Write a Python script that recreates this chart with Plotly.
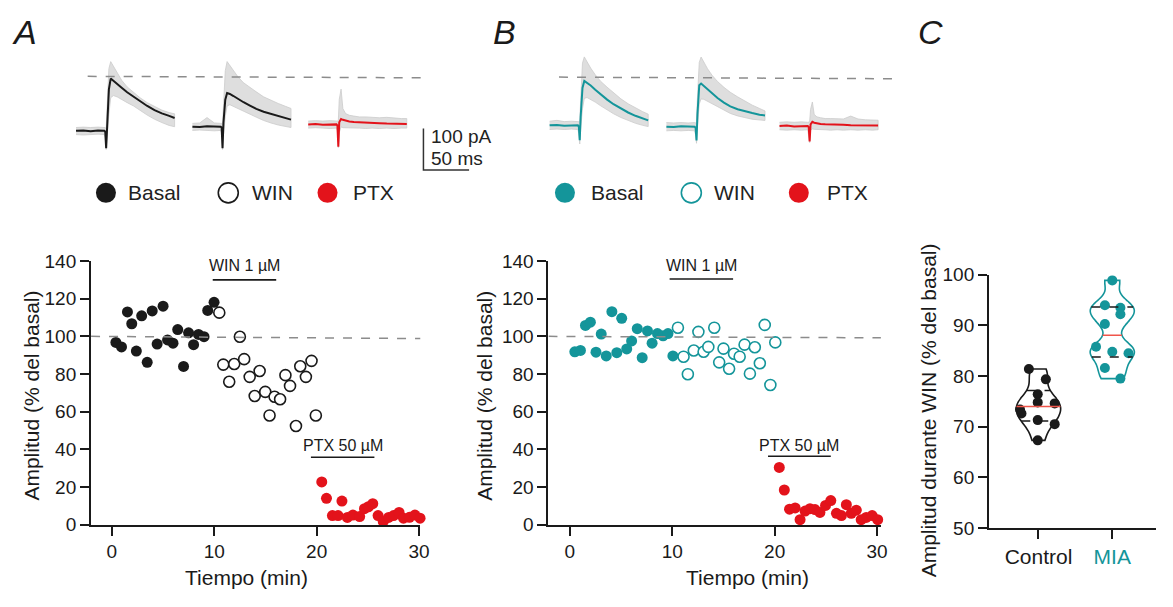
import numpy as np
import plotly.graph_objects as go

SCREEN_W, SCREEN_H = 1173, 607
OFF = 8                      # default body margin of the page
W, H = SCREEN_W - 2 * OFF, SCREEN_H - 2 * OFF
FONT = "Liberation Sans, Arial, Helvetica, sans-serif"
INK = "#1a1a1a"
TEAL = "#14959a"
RED = "#e3131b"
DASH_GREY = "#8c8c8c"
TRACE_GREY = "#dedede"

# ---------------- Panel A time course (min, % of basal) ----------------
a_basal_t = [0.39, 0.94, 1.52, 1.94, 2.39, 2.91, 3.45, 3.94, 4.42, 5.0, 5.44, 5.97, 6.43, 7.0, 7.49, 7.98, 8.46, 9.0, 9.36, 9.98]
a_basal_y = [96.8, 94.4, 113, 106.7, 92.2, 110.9, 86.2, 113.5, 95.9, 116, 98.1, 96.4, 103.6, 84, 101.9, 95.6, 101, 99.8, 113.8, 118.1]
a_win_t = [10.49, 10.88, 11.46, 11.95, 12.5, 12.92, 13.46, 13.95, 14.43, 14.98, 15.4, 15.89, 16.43, 16.95, 17.4, 17.98, 18.4, 18.95, 19.5, 19.92]
a_win_y = [112.6, 85, 75.9, 85.3, 99.8, 87.9, 78.5, 68.3, 81.6, 70.5, 58, 67.9, 66.6, 79.4, 73.7, 52.4, 84.1, 78.5, 87, 58]
a_ptx_t = [20.5, 20.96, 21.54, 22.09, 22.47, 23.0, 23.54, 24.2, 24.67, 25.05, 25.48, 26.0, 26.5, 27.03, 27.51, 28.05, 28.48, 29.06, 29.6, 30.1]
a_ptx_y = [22.7, 14, 4.8, 4.8, 12.5, 3.8, 5.1, 4.3, 8.5, 9.5, 11.1, 4.8, 1.7, 3.8, 4.8, 6.5, 3.4, 3.9, 5.1, 3.4]

# ---------------- Panel B time course ----------------
b_basal_t = [0.48, 1.03, 1.52, 2.0, 2.55, 3.06, 3.55, 4.1, 4.58, 5.06, 5.55, 6.03, 6.58, 7.06, 7.58, 8.03, 8.55, 9.1, 9.58, 10.06]
b_basal_y = [91.8, 92.5, 105.8, 107.5, 91.6, 101.2, 89.6, 113.1, 91.3, 109.6, 93.3, 97.6, 104.1, 88.7, 102.9, 96.4, 101.5, 100.3, 101.5, 89.6]
b_win_t = [10.55, 11.1, 11.52, 12.1, 12.55, 13.06, 13.52, 14.1, 14.58, 15.0, 15.55, 16.03, 16.58, 17.06, 17.58, 18.06, 18.55, 19.03, 19.58, 20.06]
b_win_y = [104.6, 89.2, 79.9, 92.5, 102.4, 91.8, 94.4, 104.6, 86.2, 93.5, 82.8, 90.8, 89.2, 95.6, 80.2, 94.2, 85.7, 106.1, 74.2, 96.8]
b_ptx_t = [20.45, 20.94, 21.45, 22.0, 22.48, 22.97, 23.45, 23.94, 24.42, 24.97, 25.48, 26.03, 26.52, 27.0, 27.48, 27.97, 28.45, 28.94, 29.52, 30.06]
b_ptx_y = [30.4, 18.4, 8.2, 8.9, 2.6, 7.2, 8.5, 8.0, 6.5, 10.2, 12.8, 6.0, 4.8, 10.6, 6.0, 7.7, 2.6, 3.8, 4.8, 2.6]

# ---------------- Panel C (amplitude during WIN, % of basal) ----------------
c_categories = ["Control", "MIA"]
control_vals = [81.4, 79.35, 76.4, 74.8, 74.6, 73.4, 72.6, 71.3, 70.5, 67.3]
control_jitter = [-0.13, 0.10, -0.01, -0.01, 0.22, -0.25, -0.23, -0.01, 0.22, -0.01]
mia_vals = [98.9, 94.0, 93.5, 92.2, 90.3, 85.8, 84.8, 84.5, 81.6, 79.5]
mia_jitter = [0.0, -0.10, 0.11, 0.11, -0.10, -0.22, 0.0, 0.22, -0.10, 0.11]

# ---------------- Example current traces (ms from stimulus, pA from baseline) ----------------
trace_t = [-32, -24, -16, -8, -1, 0, 1, 2, 4, 6, 9, 13, 18, 24, 31, 38, 46, 54, 62, 70, 76]
a1_mean = [0, 1, -1, 1, 0, -2, -42, 15, 100, 126, 121, 114, 104, 93, 82, 72, 60, 50, 42, 36, 31]
a1_up = [8, 9, 8, 9, 8, 8, 5, 60, 150, 167, 155, 140, 122, 106, 92, 80, 68, 58, 50, 44, 41]
a1_lo = [-9, -10, -9, -8, -9, -15, -45, -20, 40, 80, 85, 82, 76, 68, 60, 50, 38, 28, 20, 13, 10]
a2_mean = [0, -1, 1, 0, 0, -2, -52, 10, 65, 81, 79, 74, 67, 59, 51, 43, 36, 31, 26, 21, 17]
a2_up = [8, 9, 22, 9, 8, 8, 5, 50, 135, 157, 148, 135, 120, 106, 94, 84, 72, 63, 56, 49, 44]
a2_lo = [-9, -8, -9, -10, -9, -15, -55, -20, 25, 50, 53, 50, 45, 38, 30, 23, 15, 9, 4, 0, -2]
a3_mean = [0, 1, -1, 0, 0, -3, -54, 5, 13, 11, 9, 7, 6, 5, 4, 3, 3, 2, 2, 2, 1]
a3_up = [8, 9, 8, 9, 8, 8, 10, 60, 85, 38, 26, 22, 20, 18, 18, 17, 16, 17, 15, 14, 14]
a3_lo = [-9, -8, -9, -10, -9, -15, -56, -20, -6, -8, -8, -9, -9, -9, -10, -9, -10, -9, -10, -9, -9]
b1_mean = [0, 1, -1, 0, 0, -3, -36, 20, 90, 107, 103, 96, 86, 74, 62, 51, 40, 31, 23, 16, 12]
b1_up = [10, 12, 9, 10, 9, 9, 8, 60, 150, 165, 152, 138, 122, 106, 92, 78, 64, 52, 42, 33, 27]
b1_lo = [-10, -9, -10, -9, -10, -20, -45, -10, 40, 65, 67, 63, 56, 47, 37, 28, 19, 12, 5, 0, -3]
b2_mean = [0, -1, 1, 0, 0, -3, -33, 30, 100, 104, 98, 90, 80, 69, 58, 49, 42, 37, 33, 29, 27]
b2_up = [10, 9, 10, 9, 10, 9, 8, 70, 155, 168, 155, 140, 124, 109, 95, 83, 72, 61, 52, 44, 38]
b2_lo = [-10, -9, -10, -9, -10, -20, -40, 0, 55, 67, 66, 62, 56, 48, 40, 32, 26, 22, 18, 16, 15]
b3_mean = [0, 1, -1, 0, 0, -3, -37, 4, 10, 8, 6, 5, 4, 4, 3, 3, 2, 2, 2, 1, 1]
b3_up = [9, 10, 9, 10, 9, 9, 10, 40, 58, 28, 22, 20, 18, 18, 17, 17, 24, 17, 15, 15, 14]
b3_lo = [-9, -10, -9, -10, -9, -15, -40, -10, -7, -8, -8, -9, -9, -10, -9, -10, -9, -10, -9, -10, -9]

scale_pa = 100
scale_ms = 50

# ---------------- helpers (screen-pixel layout) ----------------
def px(x):
    return (x - OFF) / W


def py(y):
    return 1 - (y - OFF) / H


MS_PX = 0.92   # px per ms in the trace strip
PA_PX = 0.43   # px per pA in the trace strip
STRIP_B = 200  # bottom of the trace strip (screen px)


def tx(xpix):
    return xpix / MS_PX


def ty(ypix):
    return (STRIP_B - ypix) / PA_PX


fig = go.Figure()

# ---------------- example traces ----------------
groups = [
    (a1_mean, a1_up, a1_lo, INK, 106.0, 125.0),
    (a2_mean, a2_up, a2_lo, INK, 223.3, 120.7),
    (a3_mean, a3_up, a3_lo, RED, 340.0, 118.3),
    (b1_mean, b1_up, b1_lo, TEAL, 583.3, 119.3),
    (b2_mean, b2_up, b2_lo, TEAL, 701.0, 120.7),
    (b3_mean, b3_up, b3_lo, RED, 815.0, 120.0),
]
t_arr = np.array(trace_t, dtype=float)
for mean, up, lo, col, sx, by in groups:
    x = tx(sx) + t_arr
    y0 = ty(by)
    fig.add_trace(go.Scatter(
        x=np.concatenate([x, x[::-1]]),
        y=np.concatenate([y0 + np.array(up), (y0 + np.array(lo))[::-1]]),
        fill="toself", fillcolor=TRACE_GREY, line=dict(width=0.8, color="#cccccc"),
        mode="lines", hoverinfo="skip", showlegend=False, xaxis="x4", yaxis="y4"))
    fig.add_trace(go.Scatter(
        x=x, y=y0 + np.array(mean), mode="lines",
        line=dict(color=col, width=2), hoverinfo="skip", showlegend=False,
        xaxis="x4", yaxis="y4"))

# scale bar
sbx, sby = tx(426.7), ty(165.7)
fig.add_trace(go.Scatter(
    x=[sbx, sbx, sbx + scale_ms], y=[sby + scale_pa, sby, sby], mode="lines",
    line=dict(color="#333333", width=1.5), hoverinfo="skip", showlegend=False,
    xaxis="x4", yaxis="y4"))

# ---------------- time-course scatters ----------------
def add_series(t, y, color, filled, xa, ya):
    fig.add_trace(go.Scatter(
        x=t, y=y, mode="markers", xaxis=xa, yaxis=ya, showlegend=False,
        cliponaxis=False,
        marker=dict(size=11, color=color if filled else "white",
                    line=dict(color=color, width=1.6 if not filled else 0))))

add_series(a_basal_t, a_basal_y, INK, True, "x", "y")
add_series(a_win_t, a_win_y, INK, False, "x", "y")
add_series(a_ptx_t, a_ptx_y, RED, True, "x", "y")
add_series(b_basal_t, b_basal_y, TEAL, True, "x2", "y2")
add_series(b_win_t, b_win_y, TEAL, False, "x2", "y2")
add_series(b_ptx_t, b_ptx_y, RED, True, "x2", "y2")

# ---------------- violins ----------------
BW = 1.8
VW = 0.6
for i, (vals, col) in enumerate([(control_vals, INK), (mia_vals, TEAL)]):
    fig.add_trace(go.Violin(
        y=vals, x0=i, name=c_categories[i], xaxis="x3", yaxis="y3",
        width=VW, bandwidth=BW, spanmode="hard", points=False,
        line=dict(color=col, width=1.6), fillcolor="rgba(0,0,0,0)",
        box_visible=False, meanline_visible=False, showlegend=False,
        scalemode="width", hoverinfo="skip"))

shapes = []
for i, (vals, col) in enumerate([(control_vals, INK), (mia_vals, TEAL)]):
    v = np.array(vals, dtype=float)
    grid = np.linspace(v.min(), v.max(), 400)

    def kde(y):
        return np.exp(-0.5 * ((np.atleast_1d(y)[:, None] - v[None, :]) / BW) ** 2).sum(axis=1)

    dmax = kde(grid).max()
    q1, med, q3 = np.percentile(v, [25, 50, 75], method="weibull")
    for q, c, d in [(q1, INK, "dash"), (q3, INK, "dash"), (med, "#f0554a", "solid")]:
        hw = VW / 2 * kde(q)[0] / dmax
        shapes.append(dict(type="line", xref="x3", yref="y3", x0=i - hw, x1=i + hw,
                           y0=q, y1=q, line=dict(color=c, width=1.5, dash=d)))

jit = [control_jitter, mia_jitter]
for i, (vals, col) in enumerate([(control_vals, INK), (mia_vals, TEAL)]):
    fig.add_trace(go.Scatter(
        x=[i + j for j in jit[i]], y=vals, mode="markers", xaxis="x3", yaxis="y3",
        cliponaxis=False, showlegend=False,
        marker=dict(size=10, color=col)))

# ---------------- reference lines & bars ----------------
A_X0 = (91.7 - 112.7) / 10.32
B_X0 = (552.7 - 574.3) / 10.32
for xa, ya, xs, xend, yend in [("x", "y", A_X0, 31.0, 98.8), ("x2", "y2", B_X0, 31.5, 99.2)]:
    shapes.append(dict(type="line", xref=xa, yref=ya, x0=xs, x1=xend,
                       y0=100, y1=yend, line=dict(color=DASH_GREY, width=1.5, dash="dash")))

bars = [("x", "y", 9.85, 16.05, 130, "WIN 1 µM", 137.6),
        ("x", "y", 19.44, 25.64, 35.8, "PTX 50 µM", 42.0),
        ("x2", "y2", 9.74, 15.94, 130.5, "WIN 1 µM", 137.6),
        ("x2", "y2", 19.35, 25.48, 36.3, "PTX 50 µM", 42.0)]
annotations = []
for xa, ya, x0, x1, yb, lab, yl in bars:
    shapes.append(dict(type="line", xref=xa, yref=ya, x0=x0, x1=x1, y0=yb, y1=yb,
                       line=dict(color=INK, width=1.6)))
    annotations.append(dict(xref=xa, yref=ya, x=(x0 + x1) / 2, y=yl, text=lab,
                            showarrow=False, font=dict(size=16, color=INK),
                            xanchor="center", yanchor="middle"))

# trace strip dashed peak lines
for x0, x1, y0, y1 in [(88.3, 425, 68.5, 70.0), (563.3, 900, 69.3, 71.0)]:
    shapes.append(dict(type="line", xref="paper", yref="paper", x0=px(x0), x1=px(x1),
                       y0=py(y0), y1=py(y1), line=dict(color=DASH_GREY, width=1.5, dash="dash")))

# legend glyphs
legend_items = [
    (106.7, "Basal", INK, True, 126.7), (230.0, "WIN", INK, False, 251.7), (330.0, "PTX", RED, True, 353.3),
    (569.3, "Basal", TEAL, True, 593.3), (696.7, "WIN", TEAL, False, 717.3), (805.0, "PTX", RED, True, 831.7),
]
for cx, lab, col, filled, txx in legend_items:
    shapes.append(dict(type="circle", xref="paper", yref="paper", xsizemode="pixel", ysizemode="pixel",
                       xanchor=px(cx), yanchor=py(189.3), x0=-10, x1=10, y0=-10, y1=10,
                       fillcolor=col if filled else "white",
                       line=dict(color=col, width=0 if filled else 1.6)))
    annotations.append(dict(xref="paper", yref="paper", x=px(txx), y=py(188.5), text=lab,
                            showarrow=False, xanchor="left", yanchor="middle",
                            font=dict(size=21, color="#222222")))

# scale bar labels
annotations.append(dict(xref="paper", yref="paper", x=px(432), y=py(130.5), text="100 pA",
                        showarrow=False, xanchor="left", yanchor="middle", font=dict(size=19, color="#222222")))
annotations.append(dict(xref="paper", yref="paper", x=px(432), y=py(153.5), text="50 ms",
                        showarrow=False, xanchor="left", yanchor="middle", font=dict(size=19, color="#222222")))

# axis titles
for x, y, text, ang in [(31.7, 400, "Amplitud (% del basal)", -90),
                        (487.5, 400, "Amplitud (% del basal)", -90),
                        (936, 415, "Amplitud durante WIN (% del basal)", -90),
                        (248.5, 588, "Tiempo (min)", 0),
                        (753, 588, "Tiempo (min)", 0)]:
    annotations.append(dict(xref="paper", yref="paper", x=px(x), y=py(y), text=text, textangle=ang,
                            showarrow=False, xanchor="center", yanchor="middle",
                            font=dict(size=21, color=INK)))

# panel letters
for x, lab in [(10, "A"), (495, "B"), (923, "C")]:
    annotations.append(dict(xref="paper", yref="paper", x=px(x), y=py(23), text="<i>%s</i>" % lab,
                            showarrow=False, xanchor="left", yanchor="middle",
                            font=dict(size=34, color=INK)))

# significance
annotations.append(dict(xref="x3", yref="y3", x=1, y=109.5, text="***", showarrow=False,
                        xanchor="center", yanchor="middle", font=dict(size=26, color=INK)))

axis_common = dict(showline=True, linecolor=INK, linewidth=2, ticks="outside", ticklen=9,
                   tickwidth=1.6, tickcolor=INK, showgrid=False, zeroline=False,
                   tickfont=dict(size=19, color=INK), fixedrange=True)

yd = [py(533.3), py(260)]
fig.update_layout(
    width=W, height=H, margin=dict(l=0, r=0, t=0, b=0),
    paper_bgcolor="white", plot_bgcolor="white",
    font=dict(family=FONT, color=INK),
    showlegend=False,
    xaxis=dict(domain=[px(91.7), px(423.5)], range=[A_X0, 30.12], tickvals=[0, 10, 20, 30],
               anchor="y", **axis_common),
    yaxis=dict(domain=yd, range=[0, 140], tickvals=list(range(0, 141, 20)), anchor="x", **axis_common),
    xaxis2=dict(domain=[px(552.7), px(887.7)], range=[B_X0, 30.37], tickvals=[0, 10, 20, 30],
                anchor="y2", **axis_common),
    yaxis2=dict(domain=yd, range=[0, 140], tickvals=list(range(0, 141, 20)), anchor="x2", **axis_common),
    xaxis3=dict(domain=[px(996.7), 1.0], range=[-0.67, 1.70 - 8 / 74.3], tickvals=[0, 1],
                ticktext=["Control", "<span style='color:%s'>MIA</span>" % TEAL],
                anchor="y3", **{**axis_common, "tickfont": dict(size=21, color=INK)}),
    yaxis3=dict(domain=[py(536.7), py(274.3)], range=[50, 100], tickvals=list(range(50, 101, 10)),
                anchor="x3", **axis_common),
    xaxis4=dict(domain=[0, 1], range=[tx(OFF), tx(OFF + W)], visible=False, fixedrange=True, anchor="y4"),
    yaxis4=dict(domain=[py(STRIP_B), 1], range=[0, ty(OFF)], visible=False, fixedrange=True, anchor="x4"),
    shapes=shapes, annotations=annotations,
)

fig.write_html("out.html", config={"displayModeBar": False})
